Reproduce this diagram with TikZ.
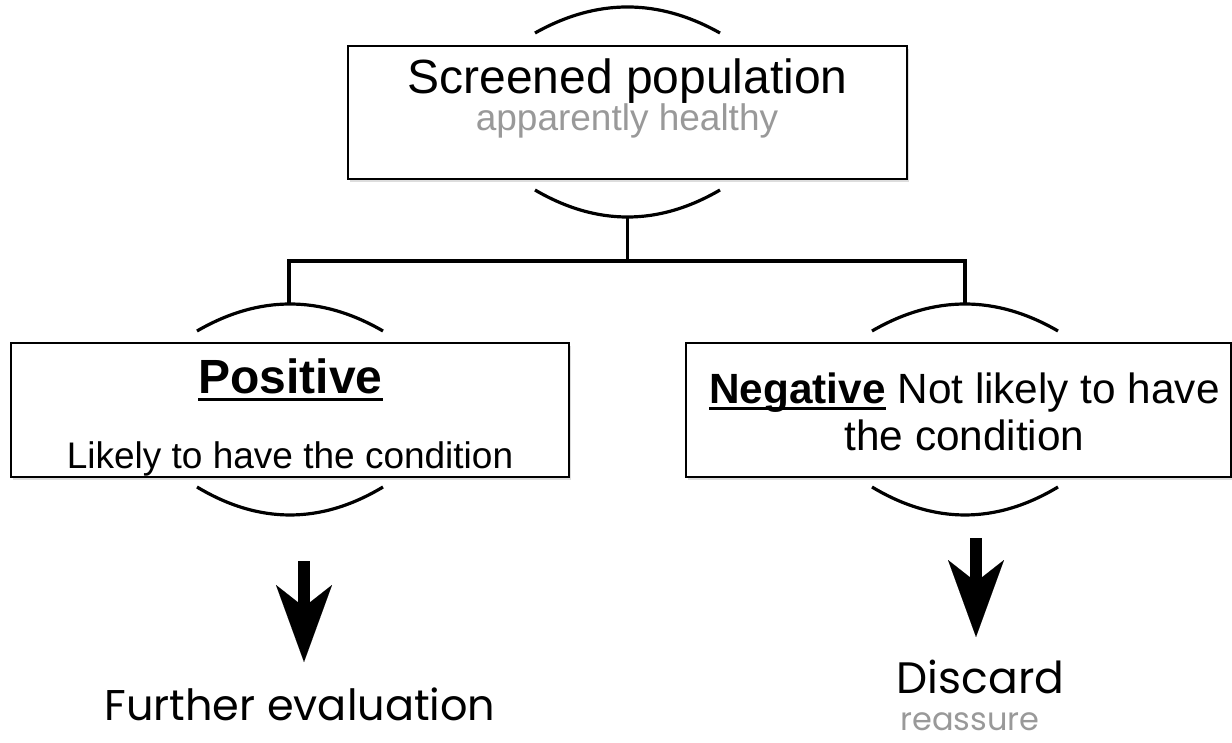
\documentclass[tikz,border=0pt]{standalone}
\usepackage{fontspec}
\setmainfont{Liberation Sans}
\newfontfamily\popfont{Poppins}
\usetikzlibrary{arrows.meta,shadows}
\definecolor{subgrey}{HTML}{999999}
\newsavebox\ulbox
\newcommand\myul[1]{\sbox\ulbox{#1}\rlap{\rule[-0.17em]{\wd\ulbox}{0.075em}}\usebox\ulbox}
\tikzset{
  boxst/.style={draw=black, line width=2pt, fill=white, inner sep=0pt,
    drop shadow={shadow xshift=1.5pt, shadow yshift=-3pt, opacity=0.22, fill=black!60}},
  arcst/.style={line width=3.2pt},
  connst/.style={line width=3.5pt, line join=miter},
  bigarrow/.style={line width=12pt, -{Stealth[length=77pt,width=56pt,inset=22pt,line width=0.1pt]}},
  txt/.style={anchor=base, inner sep=0pt}
}
\begin{document}
\begin{tikzpicture}[x=1pt,y=-1pt]
\useasboundingbox (0,0) rectangle (1232,742);

% boxes
\node[boxst, minimum width=559pt, minimum height=133pt] (topbox) at (627.5,112.5) {};
\node[boxst, minimum width=558pt, minimum height=134pt] (posbox) at (290,410) {};
\node[boxst, minimum width=545pt, minimum height=134pt] (negbox) at (958.5,410) {};

% arcs
\draw[arcst] (535,33) .. controls (596.7,-1.7) and (658.3,-1.7) .. (720,33);
\draw[arcst] (535,190) .. controls (596.7,226) and (658.3,226) .. (720,190);
\draw[arcst] (197,331) .. controls (259,295) and (321,295) .. (383,331);
\draw[arcst] (197,487) .. controls (259,524.3) and (321,524.3) .. (383,487);
\draw[arcst] (872,331) .. controls (934,295) and (996,295) .. (1058,331);
\draw[arcst] (872,487) .. controls (934,524.3) and (996,524.3) .. (1058,487);

% connectors
\coordinate (topbot) at (627.5,216);
\coordinate (split) at (627.5,261);
\coordinate (ltop) at (289,304);
\coordinate (rtop) at (965,304);
\draw[connst] (topbot) -- (split);
\draw[connst] (ltop) |- (split) -| (rtop);

% big arrows
\coordinate (la0) at (304,561);
\coordinate (la1) at (304,662);
\coordinate (ra0) at (976,538);
\coordinate (ra1) at (976,637);
\draw[bigarrow] (la0) -- (la1);
\draw[bigarrow] (ra0) -- (ra1);

% texts
\node[txt, font=\fontsize{48}{52}\selectfont] (scr) at (627.5,93) {Screened population};
\node[txt, text=subgrey, font=\fontsize{37}{40}\selectfont] (app) at (627,130) {apparently healthy};
\node[txt, font=\bfseries\fontsize{48}{52}\selectfont] (pos) at (290.5,393) {\myul{Positive}};
\node[txt, font=\fontsize{37}{40}\selectfont] (posd) at (290,468) {Likely to have the condition};
\node[txt, font=\fontsize{42.3}{47}\selectfont] (neg1) at (964.5,403) {\textbf{\myul{Negative}} Not likely to have};
\node[txt, font=\fontsize{42.3}{47}\selectfont] (neg2) at (964.5,450) {the condition};
\node[txt, font=\popfont\fontsize{43}{48}\selectfont] (further) at (300,720) {Further evaluation};
\node[txt, font=\popfont\fontsize{44}{48}\selectfont] (discard) at (980.5,693) {Discard};
\node[txt, text=subgrey, font=\popfont\fontsize{32}{36}\selectfont] (reassure) at (970,730) {reassure};
\end{tikzpicture}
\end{document}
